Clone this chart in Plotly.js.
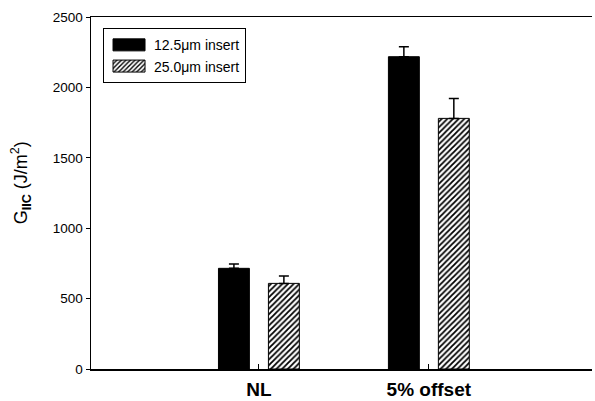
<!DOCTYPE html>
<html>
<head>
<meta charset="utf-8">
<script src="https://cdn.plot.ly/plotly-3.0.1.min.js"></script>
<style>html,body{margin:0;padding:0;background:#fff}#chart{width:595px;height:401px}</style>
</head>
<body>
<div id="chart"></div>
<script>
const categories = ["NL", "5% offset"];
const seriesNames = ["12.5\u03bcm insert", "25.0\u03bcm insert"];
const insert125 = [715, 2218];
const insert125Err = [30, 71];
const insert250 = [608, 1780];
const insert250Err = [52, 142];
const yTicks = [0, 500, 1000, 1500, 2000, 2500];
const yTitle = "G<sub><b>IIC</b></sub> (J/m<sup>2</sup>)";

const xIdx = categories.map((c, i) => i);

const traces = [
  {
    type: "bar", name: seriesNames[0], x: xIdx, y: insert125,
    width: 0.182, offset: -0.238,
    marker: {color: "#000", line: {color: "#000", width: 1}},
    error_y: {type: "data", symmetric: false, array: insert125Err, arrayminus: [0, 0],
              color: "#000", thickness: 1.5, width: 5}
  },
  {
    type: "bar", name: seriesNames[1], x: xIdx, y: insert250,
    width: 0.182, offset: 0.056,
    marker: {color: "#fff", line: {color: "#000", width: 1},
             pattern: {shape: "/", size: 4, solidity: 0.45, fgcolor: "#000", bgcolor: "#fff"}},
    error_y: {type: "data", symmetric: false, array: insert250Err, arrayminus: [0, 0],
              color: "#000", thickness: 1.5, width: 5}
  }
];

const layout = {
  width: 595, height: 401,
  margin: {l: 91, r: 3, t: 17, b: 32},
  paper_bgcolor: "#fff", plot_bgcolor: "#fff",
  font: {family: "Liberation Sans, Arial, sans-serif", color: "#000", size: 13},
  showlegend: true,
  legend: {x: 0.024, y: 0.968, xanchor: "left", yanchor: "top",
           bordercolor: "#000", borderwidth: 1, bgcolor: "#fff",
           font: {size: 14}, itemwidth: 40, tracegroupgap: 0},
  xaxis: {
    range: [-0.988, 1.96], tickvals: xIdx, ticktext: categories,
    showline: true, linecolor: "#000", linewidth: 1.5, mirror: true,
    ticks: "inside", ticklen: 5, tickcolor: "#000", tickwidth: 1,
    showgrid: false, zeroline: false,
    tickfont: {size: 19, family: "Liberation Sans, Arial, sans-serif", weight: "bold"},
    ticklabelstandoff: 3
  },
  yaxis: {
    range: [0, 2500], tickvals: yTicks,
    showline: true, linecolor: "#000", linewidth: 1.5,
    ticks: "outside", ticklen: 4, tickcolor: "#000", tickwidth: 1,
    showgrid: false, zeroline: false,
    tickfont: {size: 13.5}
  },
  annotations: [{
    text: yTitle, textangle: -90, showarrow: false,
    xref: "paper", yref: "paper", x: -0.14, y: 0.53,
    xanchor: "center", yanchor: "middle",
    font: {size: 18}
  }]
};

Plotly.newPlot("chart", traces, layout, {displayModeBar: false, staticPlot: true}).then(function () {
  document.querySelectorAll("#chart .legend .legendpoints path").forEach(function (p) {
    p.setAttribute("d", "M16,6H-16V-6H16Z");
  });
});
</script>
</body>
</html>
